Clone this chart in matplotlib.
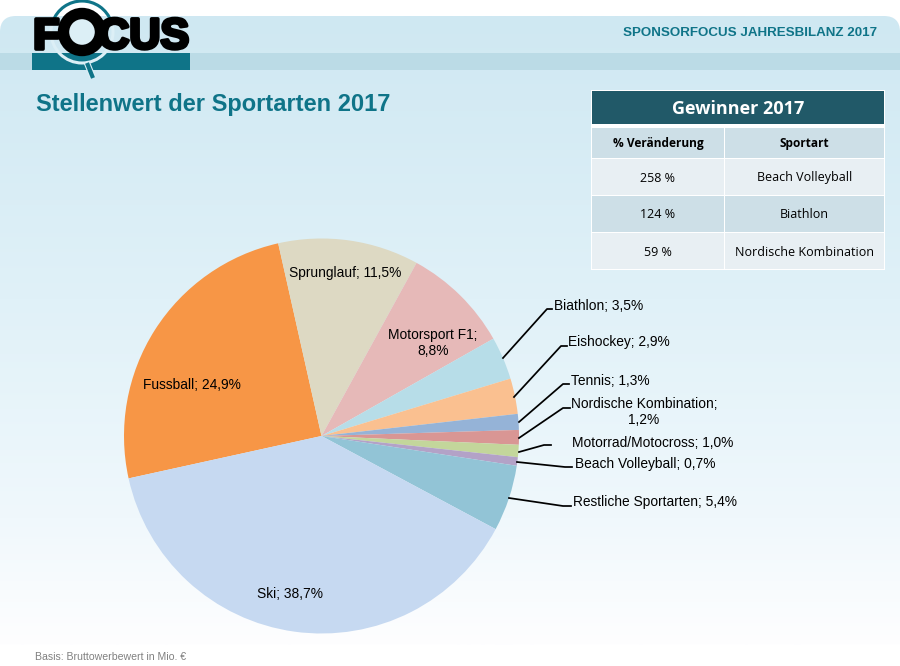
"""Stellenwert der Sportarten 2017: pie chart with the winners table and header."""

import numpy as np
import matplotlib
matplotlib.use("Agg")
import matplotlib.pyplot as plt
import matplotlib.patheffects as pe
from matplotlib.colors import LinearSegmentedColormap
from matplotlib.patches import Arc, Circle, FancyBboxPatch, Rectangle

W, H = 900, 666

SPORTS = ["Fussball", "Sprunglauf", "Motorsport F1", "Biathlon", "Eishockey", "Tennis",
          "Nordische Kombination", "Motorrad/Motocross", "Beach Volleyball",
          "Restliche Sportarten", "Ski"]
SHARES = [24.9, 11.5, 8.8, 3.5, 2.9, 1.3, 1.2, 1.0, 0.7, 5.4, 38.7]

TABLE_TITLE = "Gewinner 2017"
TABLE_HEAD = ["% Veränderung", "Sportart"]
TABLE_CHANGE = ["258 %", "124 %", "59 %"]
TABLE_SPORT = ["Beach Volleyball", "Biathlon", "Nordische Kombination"]

COLORS = ["#F79646", "#DDD9C3", "#E6B9B8", "#B7DDE8", "#FAC090", "#95B3D7",
          "#D99694", "#C3D69B", "#B3A2C7", "#92C4D6", "#C6D9F1"]
TEAL = "#0F7488"
PALE = "#DCEFF6"
SANS = "Liberation Sans"
TABLE_FONT = "Open Sans"
LABEL_SIZE = 9.9

# label anchors and leader lines, all in image pixels (y down)
INSIDE_LABELS = {
    "Fussball": (192, 385), "Sprunglauf": (345, 273),
    "Motorsport F1": (433, 343), "Ski": (290, 594),
}
OUTSIDE_LABELS = {
    "Biathlon": ((554, 306), [(503, 358), (547, 309), (552, 309)]),
    "Eishockey": ((568, 342), [(514, 397), (561, 346), (567, 346)]),
    "Tennis": ((571, 381), [(519, 422), (563, 384), (569, 384)]),
    "Nordische Kombination": ((571, 405), [(519, 438), (563, 408), (570, 408)]),
    "Motorrad/Motocross": ((572, 443), [(519, 452), (544, 445), (551, 445)]),
    "Beach Volleyball": ((575, 464), [(517, 462), (565, 467), (572, 467)]),
    "Restliche Sportarten": ((573, 502), [(509, 498), (563, 506), (571, 506)]),
}


def py(y):
    return H - y


def pct(value):
    return f"{value:.1f}%".replace(".", ",")


def draw_background(ax):
    cmap = LinearSegmentedColormap.from_list(
        "panel", [(0, "#CFE8F2"), (0.45, "#E0F1F8"), (0.8, "#F0F8FC"), (1, "#FEFEFF")])
    grad = np.linspace(0, 1, 256).reshape(-1, 1)
    img = ax.imshow(grad, cmap=cmap, extent=(0, W, py(645), py(16)), origin="upper",
                    aspect="auto", zorder=0)
    panel = FancyBboxPatch((0, -30), W, py(16) + 30, boxstyle="round,pad=0,rounding_size=16",
                           transform=ax.transData, fc="none", ec="none")
    ax.add_patch(panel)
    img.set_clip_path(panel)
    ax.add_patch(Rectangle((0, py(70)), W, 17, fc="#BBDBE6", ec="none", zorder=1))


def draw_logo(ax):
    ax.add_patch(Rectangle((32, py(70)), 158, 17, fc=TEAL, ec="none", zorder=2))
    # magnifier: pale rim over the bar, teal arc above the letters, handle below
    ax.add_patch(Circle((82, py(32)), 31, fc="none", ec=PALE, lw=2.2, zorder=2.2))
    ax.add_patch(Arc((82, py(32)), 62, 62, theta1=20, theta2=160, ec=TEAL, lw=2.2, zorder=2.3))
    ax.plot([87, 93], [py(63), py(78)], color=PALE, lw=4.6, zorder=2.1, solid_capstyle="butt")
    ax.plot([87, 93], [py(63), py(78)], color=TEAL, lw=3.0, zorder=2.2, solid_capstyle="butt")
    stroke = [pe.withStroke(linewidth=2.6, foreground="black")]
    ax.text(33.5, py(48.5), "F", fontsize=31, fontweight="bold", family=SANS, va="baseline",
            color="black", path_effects=stroke, zorder=3)
    ax.text(189, py(48.5), "CUS", fontsize=31, fontweight="bold", family=SANS, ha="right",
            va="baseline", color="black", path_effects=stroke, zorder=3)
    ax.add_patch(Circle((82, py(32)), 18.5, fc=PALE, ec="black", lw=8.2, zorder=3.1))


def draw_table(ax):
    x0, split, x1 = 592, 724, 884
    rows = [(128, 158), (159, 195), (196, 232), (233, 269)]
    ax.add_patch(Rectangle((x0 - 1, py(270)), x1 - x0 + 2, 180, fc="white", ec="none", zorder=2))
    ax.add_patch(Rectangle((x0, py(124)), x1 - x0, 33, fc="#215968", ec="none", zorder=3))
    ax.text((x0 + x1) / 2, py(108.5), TABLE_TITLE, color="white", fontsize=13, fontweight="bold",
            family=TABLE_FONT, ha="center", va="center", zorder=4)
    fills = ["#CDDFE7", "#E8EFF3", "#CDDFE7", "#E8EFF3"]
    cells = [TABLE_HEAD] + [list(pair) for pair in zip(TABLE_CHANGE, TABLE_SPORT)]
    for i, ((top, bottom), fill, row) in enumerate(zip(rows, fills, cells)):
        weight = "bold" if i == 0 else "normal"
        size = 8.6 if i == 0 else 9
        for left, right, txt in [(x0, split, row[0]), (split + 1, x1, row[1])]:
            ax.add_patch(Rectangle((left, py(bottom)), right - left, bottom - top,
                                   fc=fill, ec="none", zorder=3))
            ax.text((left + right) / 2, py((top + bottom) / 2 + 1), txt, color="black", fontsize=size,
                    fontweight=weight, family=TABLE_FONT, ha="center", va="center", zorder=4)


def main():
    fig = plt.figure(figsize=(W / 100, H / 100), dpi=100, facecolor="white")
    ax = fig.add_axes([0, 0, 1, 1])

    ax.pie(SHARES, colors=COLORS, startangle=192.4, counterclock=False,
           center=(321.5, py(436)), radius=197.5, wedgeprops={"linewidth": 0, "zorder": 2})
    ax.set_xlim(0, W)
    ax.set_ylim(0, H)
    ax.set_aspect("auto")
    ax.axis("off")

    draw_background(ax)
    draw_logo(ax)
    draw_table(ax)

    ax.text(877, py(33), "SPONSORFOCUS JAHRESBILANZ 2017", color=TEAL, fontsize=9.6,
            fontweight="bold", family=SANS, ha="right", va="center", zorder=3)
    ax.text(36, py(104), "Stellenwert der Sportarten 2017", color=TEAL, fontsize=17,
            fontweight="bold", family=SANS, va="center", zorder=3)
    ax.text(35, py(657), "Basis: Bruttowerbewert in Mio. €", color="#808080", fontsize=7.6,
            family=SANS, va="center", zorder=3)

    share_of = dict(zip(SPORTS, SHARES))
    for name, (x, y) in INSIDE_LABELS.items():
        sep = ";\n" if name == "Motorsport F1" else "; "
        ax.text(x, py(y), f"{name}{sep}{pct(share_of[name])}", fontsize=LABEL_SIZE, family=SANS,
                ha="center", va="center", color="black", zorder=4, linespacing=1.15)
    for name, ((x, y), line) in OUTSIDE_LABELS.items():
        xs, ys = zip(*line)
        ax.plot(xs, [py(v) for v in ys], color="black", lw=1.25, zorder=4)
        if name == "Nordische Kombination":
            ax.text(x + 73, py(y - 8), f"{name};\n{pct(share_of[name])}", fontsize=LABEL_SIZE,
                    family=SANS, ha="center", va="top", color="black", zorder=4, linespacing=1.15)
        else:
            ax.text(x, py(y), f"{name}; {pct(share_of[name])}", fontsize=LABEL_SIZE, family=SANS,
                    ha="left", va="center", color="black", zorder=4)

    fig.savefig("out.png", dpi=100, facecolor="white")


if __name__ == "__main__":
    main()
